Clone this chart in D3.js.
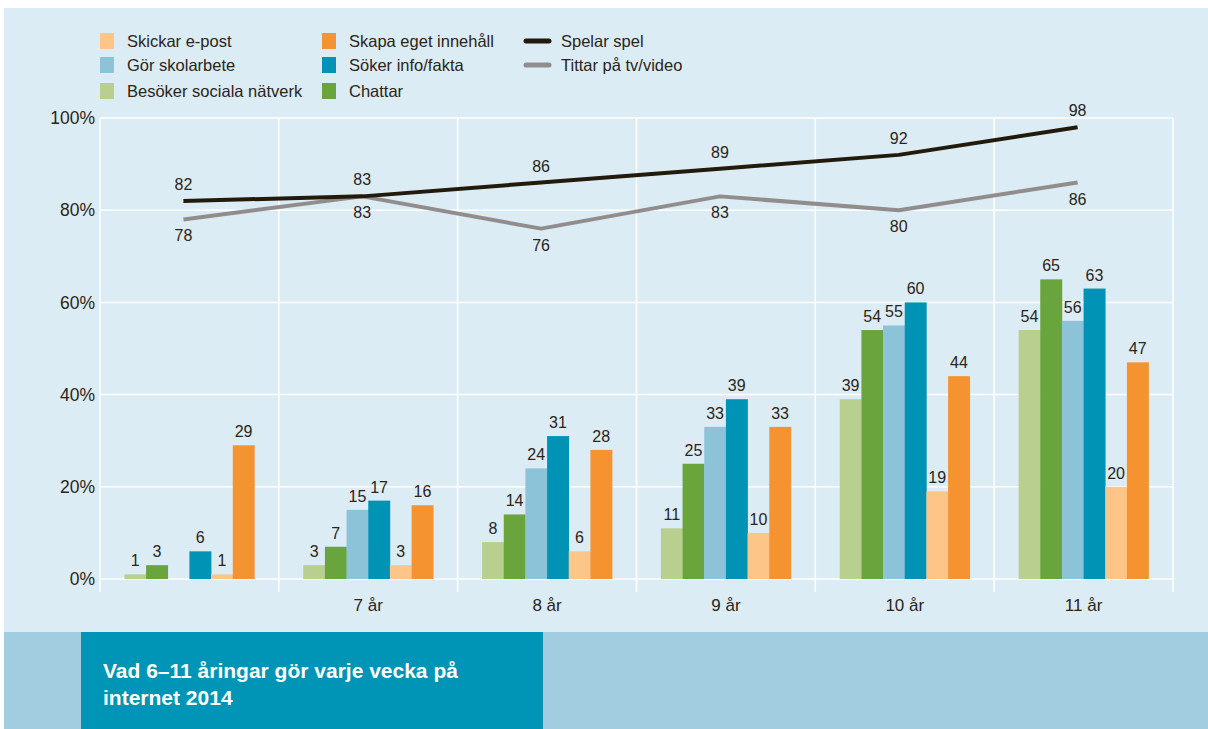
<!DOCTYPE html>
<meta charset="utf-8">
<script src="https://d3js.org/d3.v7.min.js"></script>
<style>
body { margin: 0; background: #fff; }
text { font-family: "Liberation Sans", Arial, sans-serif; fill: #2b2418; }
</style>
<body>
<div id="chart"></div>
<script>
// ages on the x axis; first group has no printed label
var ages = ["6", "7", "8", "9", "10", "11"];
var tickLabels = ["", "7 år", "8 år", "9 år", "10 år", "11 år"];

// bar series (percent), in drawing order inside a group
var sociala    = [1, 3, 8, 11, 39, 54];
var chattar    = [3, 7, 14, 25, 54, 65];
var skolarbete = [null, 15, 24, 33, 55, 56];
var soker      = [6, 17, 31, 39, 60, 63];
var epost      = [1, 3, 6, 10, 19, 20];
var skapa      = [29, 16, 28, 33, 44, 47];

// line series
var spelar = [82, 83, 86, 89, 92, 98];
var tittar = [78, 83, 76, 83, 80, 86];

var yTicks = [0, 20, 40, 60, 80, 100];

var barSeries = [
  { key: "sociala", name: "Besöker sociala nätverk", color: "#b8cf8f", values: sociala },
  { key: "chattar", name: "Chattar", color: "#69a43d", values: chattar },
  { key: "skolarbete", name: "Gör skolarbete", color: "#8dc3d9", values: skolarbete },
  { key: "soker", name: "Söker info/fakta", color: "#0093b5", values: soker },
  { key: "epost", name: "Skickar e-post", color: "#fdc588", values: epost },
  { key: "skapa", name: "Skapa eget innehåll", color: "#f59331", values: skapa }
];
var lineSeries = [
  { name: "Tittar på tv/video", color: "#918d8c", values: tittar, above: false },
  { name: "Spelar spel", color: "#221a0b", values: spelar, above: true }
];

var W = 1208, H = 729;
var margin = { top: 118, right: 35, bottom: 150, left: 100 };

var svg = d3.select("#chart").append("svg")
  .attr("width", W)
  .attr("height", H);

// backgrounds
svg.append("rect").attr("x", 4).attr("y", 8).attr("width", W - 4).attr("height", 624).attr("fill", "#dcecf5");
svg.append("rect").attr("x", 4).attr("y", 632).attr("width", W - 4).attr("height", H - 632).attr("fill", "#a2cde0");
svg.append("rect").attr("x", 81).attr("y", 632).attr("width", 462).attr("height", H - 632).attr("fill", "#0094b7");

var x0 = d3.scaleBand()
  .domain(ages)
  .range([margin.left, W - margin.right]);

var x1 = d3.scaleBand()
  .domain(barSeries.map(function(d) { return d.key; }))
  .range([(x0.bandwidth() - 130) / 2, (x0.bandwidth() + 130) / 2]);

var y = d3.scaleLinear()
  .domain([0, 100])
  .range([H - margin.bottom, margin.top]);

var plot = svg.append("g");

// grid
plot.append("g").selectAll("line")
  .data(yTicks)
  .enter().append("line")
  .attr("x1", margin.left).attr("x2", W - margin.right)
  .attr("y1", function(d) { return y(d); })
  .attr("y2", function(d) { return y(d); })
  .attr("stroke", "#fff").attr("stroke-width", 1.5);

var bounds = ages.map(function(a) { return x0(a); }).concat([W - margin.right]);
plot.append("g").selectAll("line")
  .data(bounds)
  .enter().append("line")
  .attr("x1", function(d) { return d; }).attr("x2", function(d) { return d; })
  .attr("y1", y(100)).attr("y2", y(0) + 13)
  .attr("stroke", "#fff").attr("stroke-width", 1.5);

// y labels
plot.append("g").selectAll("text")
  .data(yTicks)
  .enter().append("text")
  .attr("x", margin.left - 5)
  .attr("y", function(d) { return y(d); })
  .attr("dy", "0.35em")
  .attr("text-anchor", "end")
  .attr("font-size", 17.5)
  .text(function(d) { return d + "%"; });

// x labels
plot.append("g").selectAll("text")
  .data(ages)
  .enter().append("text")
  .attr("x", function(d) { return x0(d) + x0.bandwidth() / 2; })
  .attr("y", y(0) + 32)
  .attr("text-anchor", "middle")
  .attr("font-size", 17)
  .text(function(d, i) { return tickLabels[i]; });

// bars
var groups = plot.append("g").selectAll("g")
  .data(ages)
  .enter().append("g")
  .attr("transform", function(d) { return "translate(" + x0(d) + ",0)"; });

var cells = groups.selectAll("g")
  .data(function(d, i) {
    return barSeries.map(function(s) { return { key: s.key, color: s.color, v: s.values[i] }; })
      .filter(function(c) { return c.v != null; });
  })
  .enter().append("g");

cells.append("rect")
  .attr("x", function(d) { return x1(d.key); })
  .attr("width", x1.bandwidth() + 0.3)
  .attr("y", function(d) { return y(d.v); })
  .attr("height", function(d) { return y(0) - y(d.v); })
  .attr("fill", function(d) { return d.color; });

cells.append("text")
  .attr("x", function(d) { return x1(d.key) + x1.bandwidth() / 2; })
  .attr("y", function(d) { return y(d.v) - 8; })
  .attr("text-anchor", "middle")
  .attr("font-size", 16)
  .text(function(d) { return d.v; });

// lines
var cx = function(d, i) { return x0(ages[i]) + x0.bandwidth() / 2 - 6; };
var line = d3.line()
  .x(cx)
  .y(function(d) { return y(d); });

lineSeries.forEach(function(s) {
  plot.append("path")
    .datum(s.values)
    .attr("d", line)
    .attr("fill", "none")
    .attr("stroke", s.color)
    .attr("stroke-width", 4)
    .attr("stroke-linejoin", "round");

  plot.append("g").selectAll("text")
    .data(s.values)
    .enter().append("text")
    .attr("x", cx)
    .attr("y", function(d) { return y(d) + (s.above ? -11 : 22); })
    .attr("text-anchor", "middle")
    .attr("font-size", 16)
    .text(function(d) { return d; });
});

// legend
var legendBars = [
  { s: barSeries[4], col: 0, row: 0 },
  { s: barSeries[2], col: 0, row: 1 },
  { s: barSeries[0], col: 0, row: 2 },
  { s: barSeries[5], col: 1, row: 0 },
  { s: barSeries[3], col: 1, row: 1 },
  { s: barSeries[1], col: 1, row: 2 }
];
var colX = [100, 322, 524];
var rowY = [41, 65, 91];

var legend = svg.append("g");
var lb = legend.selectAll("g.lb")
  .data(legendBars)
  .enter().append("g").attr("class", "lb");
lb.append("rect")
  .attr("x", function(d) { return colX[d.col]; })
  .attr("y", function(d) { return rowY[d.row] - 8; })
  .attr("width", 14).attr("height", 16)
  .attr("fill", function(d) { return d.s.color; });
lb.append("text")
  .attr("x", function(d) { return colX[d.col] + 27; })
  .attr("y", function(d) { return rowY[d.row]; })
  .attr("dy", "0.35em")
  .attr("font-size", 16.5)
  .text(function(d) { return d.s.name; });

var ll = legend.selectAll("g.ll")
  .data([lineSeries[1], lineSeries[0]])
  .enter().append("g").attr("class", "ll");
ll.append("line")
  .attr("x1", colX[2] + 2).attr("x2", colX[2] + 25)
  .attr("y1", function(d, i) { return rowY[i]; })
  .attr("y2", function(d, i) { return rowY[i]; })
  .attr("stroke", function(d) { return d.color; })
  .attr("stroke-width", 5)
  .attr("stroke-linecap", "round");
ll.append("text")
  .attr("x", colX[2] + 37)
  .attr("y", function(d, i) { return rowY[i]; })
  .attr("dy", "0.35em")
  .attr("font-size", 16.5)
  .text(function(d) { return d.name; });

// title box text
var title = svg.append("text")
  .attr("x", 103)
  .attr("y", 678)
  .attr("font-size", 21)
  .attr("font-weight", "bold")
  .style("fill", "#fff");
title.append("tspan").attr("x", 103).text("Vad 6–11 åringar gör varje vecka på");
title.append("tspan").attr("x", 103).attr("dy", 27).text("internet 2014");
</script>
</body>
